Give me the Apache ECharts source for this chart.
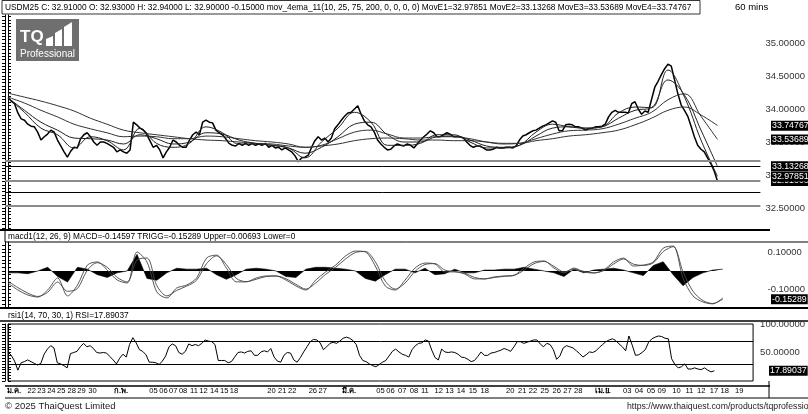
<!DOCTYPE html>
<html><head><meta charset="utf-8">
<script src="https://cdn.jsdelivr.net/npm/echarts@6/dist/echarts.min.js"></script>
<style>html,body{margin:0;padding:0;background:#fff;}#c{width:808px;height:414px;}</style>
</head><body><div id="c"></div>
<script>
// ---- price (one value per bar slot) ----
const closes = [34.17,34.12,34.08,33.94,33.85,33.83,33.77,33.74,33.73,33.65,
33.53,33.58,33.62,33.68,33.65,33.53,33.44,33.35,33.27,33.36,
33.42,33.41,33.55,33.61,33.64,33.58,33.50,33.45,33.50,33.50,
33.48,33.45,33.42,33.35,33.38,33.35,33.33,33.38,33.80,33.76,
33.71,33.68,33.62,33.52,33.42,33.45,33.38,33.26,33.35,33.42,
33.53,33.50,33.45,33.42,33.42,33.53,33.61,33.65,33.61,33.80,
33.83,33.80,33.79,33.68,33.64,33.61,33.55,33.48,33.45,33.44,
33.48,33.45,33.48,33.45,33.48,33.45,33.47,33.45,33.48,33.42,
33.45,33.41,33.42,33.38,33.41,33.38,33.35,33.29,33.20,33.26,
33.27,33.30,33.42,33.52,33.58,33.53,33.56,33.50,33.56,33.70,
33.76,33.83,33.89,33.94,33.95,34.00,34.05,33.92,33.82,33.76,
33.73,33.65,33.53,33.47,33.42,33.38,33.39,33.44,33.47,33.45,
33.44,33.47,33.45,33.41,33.47,33.53,33.58,33.62,33.67,33.64,
33.58,33.58,33.61,33.64,33.62,33.58,33.58,33.58,33.56,33.50,
33.45,33.42,33.44,33.44,33.41,33.38,33.38,33.39,33.42,33.41,
33.41,33.42,33.42,33.41,33.44,33.53,33.59,33.61,33.64,33.67,
33.68,33.71,33.74,33.76,33.79,33.82,33.80,33.67,33.67,33.76,
33.77,33.76,33.73,33.73,33.71,33.68,33.70,33.71,33.73,33.73,
33.74,33.77,33.88,33.95,33.98,33.95,33.95,33.95,33.94,34.08,
34.11,34.00,33.92,33.97,33.95,34.14,34.33,34.42,34.52,34.61,
34.68,34.65,34.44,34.23,34.06,33.98,33.89,33.74,33.58,33.45,
33.39,33.35,33.26,33.17,33.06,32.91];

// ---- moving averages (one value every EMA_STEP slots) ----
const EMA_STEP = 5;
const movE1 = [34.17,33.95,33.71,33.61,33.41,33.58,33.52,33.38,33.71,33.48,33.42,33.48,33.73,33.64,33.47,33.47,33.45,33.41,33.26,33.50,33.71,33.95,33.80,33.45,33.45,33.48,33.61,33.61,33.50,33.41,33.41,33.45,33.65,33.77,33.73,33.71,33.73,33.94,34.03,34.02,34.59,34.18,33.53,32.98];
const movE2 = [34.17,33.98,33.80,33.68,33.56,33.55,33.53,33.47,33.61,33.55,33.47,33.50,33.64,33.62,33.53,33.48,33.45,33.41,33.33,33.42,33.58,33.77,33.80,33.61,33.50,33.50,33.58,33.59,33.53,33.44,33.42,33.45,33.59,33.71,33.73,33.71,33.73,33.86,33.98,34.02,34.44,34.21,33.68,33.13];
const movE3 = [34.18,34.09,33.98,33.88,33.77,33.70,33.64,33.58,33.59,33.58,33.55,33.55,33.59,33.58,33.55,33.52,33.50,33.47,33.42,33.45,33.55,33.65,33.68,33.62,33.56,33.56,33.58,33.58,33.55,33.50,33.47,33.48,33.55,33.62,33.67,33.68,33.70,33.77,33.86,33.95,34.14,34.23,33.89,33.54];
const movE4 = [34.24,34.18,34.12,34.05,33.97,33.86,33.77,33.68,33.64,33.61,33.58,33.55,33.53,33.52,33.50,33.48,33.47,33.44,33.42,33.44,33.47,33.52,33.55,33.56,33.55,33.53,33.53,33.52,33.52,33.50,33.48,33.48,33.52,33.55,33.59,33.61,33.64,33.68,33.76,33.86,33.98,34.03,33.91,33.75];

// ---- MACD (one value every MACD_STEP slots) ----
const MACD_STEP = 3;
const macdLine = [-0.065,-0.103,-0.130,-0.141,-0.103,-0.038,-0.135,-0.076,0.032,0.049,
0.005,-0.049,-0.065,0.103,0.049,-0.114,-0.146,-0.092,-0.076,-0.038,
0.070,0.086,0.016,-0.059,-0.059,-0.038,-0.027,-0.027,-0.049,-0.081,
-0.103,-0.049,-0.005,0.032,0.081,0.108,0.103,0.027,-0.081,-0.103,
-0.049,0.016,0.043,0.038,-0.005,-0.005,-0.016,-0.043,-0.043,-0.032,
-0.027,-0.022,0.016,0.049,0.054,0.016,-0.011,0.016,-0.005,-0.011,
0.005,0.049,0.070,0.027,0.032,0.049,0.124,0.135,-0.040,-0.135,
-0.168,-0.178,-0.146];
const triggLine = [-0.055,-0.090,-0.120,-0.138,-0.115,-0.060,-0.110,-0.095,0.005,0.045,
0.020,-0.035,-0.060,0.060,0.070,-0.080,-0.135,-0.105,-0.082,-0.050,
0.040,0.082,0.035,-0.040,-0.058,-0.045,-0.030,-0.027,-0.042,-0.072,
-0.098,-0.065,-0.018,0.020,0.065,0.100,0.106,0.050,-0.055,-0.098,
-0.065,-0.002,0.035,0.040,0.005,-0.003,-0.012,-0.035,-0.043,-0.035,
-0.029,-0.024,0.005,0.040,0.052,0.025,-0.005,0.010,-0.002,-0.010,
0.002,0.038,0.065,0.037,0.030,0.044,0.105,0.132,-0.005,-0.110,
-0.160,-0.176,-0.153];
const macdHist = [-0.01,-0.01,-0.015,0.0,0.02,-0.03,-0.06,0.02,0.01,-0.02,
-0.035,-0.01,0.0,0.09,-0.04,-0.05,-0.01,0.015,0.01,0.01,
0.015,-0.02,-0.045,-0.02,0.01,0.015,0.01,0.0,-0.03,-0.035,
0.01,0.02,0.02,0.015,0.01,0.0,-0.04,-0.055,-0.02,0.01,
0.01,-0.01,0.015,-0.02,-0.015,0.01,-0.01,-0.01,0.005,0.005,
0.01,0.01,0.02,0.01,0.0,-0.01,-0.03,0.01,-0.01,0.005,
0.01,0.015,0.005,-0.01,-0.025,0.03,0.05,-0.02,-0.08,-0.035,
-0.01,0.005,0.01];

// ---- RSI (one value per bar slot) ----
const rsiLine = [51,45,35,19,32,34,37,34,31,28,
31,47,56,62,58,32,30,27,23,48,
50,52,60,66,60,62,57,50,49,50,
49,43,37,30,40,47,42,64,76,67,
55,52,46,33,33,32,29,35,44,60,
65,62,50,47,52,65,62,64,62,66,
72,70,69,64,36,36,36,32,34,42,
50,51,49,52,53,45,45,51,53,51,
57,42,35,33,45,50,49,37,33,41,
51,60,69,73,72,67,55,60,66,68,
66,70,75,77,75,71,64,45,36,34,
30,27,25,29,33,36,44,52,56,51,
47,45,42,55,62,66,67,72,70,54,
41,37,56,51,50,51,50,47,42,41,
38,34,36,43,51,45,45,49,50,52,
54,57,55,52,60,69,69,66,68,70,
72,72,65,60,66,64,55,38,44,58,
62,60,58,53,48,42,46,51,50,53,
59,64,69,72,74,71,65,60,53,79,
63,45,46,50,55,68,74,77,79,78,
75,74,39,29,23,25,30,21,21,23,
21,20,23,19,16,17.89];

// ---- horizontal price levels and last values ----
const priceLevels = [33.212, 33.136, 32.909, 32.742, 32.538];
const lastClose = 32.91, lastE1 = 32.97851, lastE2 = 33.13268, lastE3 = 33.53689, lastE4 = 33.74767;
const lastTrigg = -0.15289, lastRsi = 17.89037;
const rsiBands = [70, 30];

// ---- axis labels ----
const priceTicks = [35, 34.5, 34, 33.5, 33, 32.5];
const macdTicks = [0.1, -0.1];
const rsiTicks = [100, 50];
const dateLabels = ['ม.ค.','22','23','24','25','28','29','30','ก.พ.','05','06','07','08','11','12','14','15','18','20','21','22','26','27','มี.ค.','05','06','07','08','11','12','13','14','15','18','20','21','22','25','26','27','28','เม.ย.','03','04','05','09','10','11','12','17','18','19'];
const datePos = [1.8,7.2,10.2,13.2,16.2,19.4,22.4,25.7,34.4,44.3,47.3,50.3,53.3,56.6,59.5,62.8,65.8,68.8,80.2,83.5,86.5,92.8,95.8,103.8,113.4,116.4,120.0,123.6,126.9,131.1,134.4,137.9,141.5,145.1,152.9,156.5,159.8,163.4,167.0,170.3,173.6,181.0,188.5,192.1,195.7,199.0,203.5,207.4,211.0,214.9,218.2,222.6];

const headerText = 'USDM25 C: 32.91000 O: 32.93000 H: 32.94000 L: 32.90000 -0.15000 mov_4ema_11(10, 25, 75, 200, 0, 0, 0, 0) MovE1=32.97851 MovE2=33.13268 MovE3=33.53689 MovE4=33.74767';
const macdText = 'macd1(12, 26, 9) MACD=-0.14597 TRIGG=-0.15289 Upper=0.00693 Lower=0';
const rsiText = 'rsi1(14, 70, 30, 1) RSI=17.89037';

// ---------------------------------------------------------------
const F = "'Liberation Sans', Arial, sans-serif";
function ticks(min, max, step) { const a = []; for (let v = Math.ceil(min / step) * step; v <= max + 1e-9; v += step) a.push(+v.toFixed(6)); return a; }
const perSlot = arr => arr.map((v, i) => [i, v]);
const stepped = (arr, s) => arr.map((v, i) => [i * s, v]);

const P_MIN = 32.167, P_MAX = 35.424, M_MIN = -0.195, M_MAX = 0.157;
const X0 = { min: -0.9, max: 228 }, X2 = { min: 0, max: 226.8 };

function yAx(grid, pos, min, max, step, labels, extra) {
  return Object.assign({
    type: 'value', gridIndex: grid, position: pos, min: min, max: max,
    axisLine: { show: true, lineStyle: { color: '#000', width: 1 } },
    axisTick: { show: true, length: 3, customValues: ticks(min, max, step), lineStyle: { color: '#000' } },
    axisLabel: labels ? { show: true, customValues: labels, formatter: v => v.toFixed(5), color: '#333', fontFamily: F, fontSize: 9.5, margin: 5 } : { show: false },
    splitLine: { show: false }
  }, extra || {});
}
const hideX = (g, r) => ({ type: 'value', gridIndex: g, min: r.min, max: r.max, axisLine: { show: false }, axisTick: { show: false }, axisLabel: { show: false }, splitLine: { show: false } });
const lineS = (x, y, data, color, width) => ({ type: 'line', xAxisIndex: x, yAxisIndex: y, data: data, symbol: 'none', silent: true, animation: false, lineStyle: { color: color, width: width } });

const levelLines = priceLevels.map((v, i) => ({ yAxis: v, lineStyle: i % 2 === 0 ? { color: '#8c8c8c', width: 2, type: 'solid' } : { color: '#000', width: 1, type: 'solid' } }));

const priceSeries = lineS(0, 0, perSlot(closes), '#000', 1.5);
priceSeries.markLine = { symbol: 'none', silent: true, animation: false, label: { show: false }, data: levelLines };

const e4 = lineS(0, 0, stepped(movE4, EMA_STEP), '#333', 1);
const e3 = lineS(0, 0, stepped(movE3, EMA_STEP), '#333', 1);
const e2 = lineS(0, 0, stepped(movE2, EMA_STEP), '#222', 1);
const e1 = lineS(0, 0, stepped(movE1, EMA_STEP), '#222', 1);
[e1, e2, e3, e4].forEach(s => s.smooth = 0.4);

const hist = lineS(1, 2, stepped(macdHist, MACD_STEP), '#000', 0.6); hist.areaStyle = { color: '#000', opacity: 1 };
const macdS = lineS(1, 2, stepped(macdLine, MACD_STEP), '#444', 0.9); macdS.smooth = 0.3;
const trigS = lineS(1, 2, stepped(triggLine, MACD_STEP), '#444', 0.9); trigS.smooth = 0.3;

const rsiS = lineS(2, 4, perSlot(rsiLine), '#000', 1);
rsiS.markLine = { symbol: 'none', silent: true, animation: false, label: { show: false }, lineStyle: { color: '#000', width: 1, type: 'solid' }, data: rsiBands.map(v => ({ yAxis: v })) };

function nearestLabel(v) { let b = 0; for (let i = 1; i < datePos.length; i++) if (Math.abs(datePos[i] - v) < Math.abs(datePos[b] - v)) b = i; return dateLabels[b]; }

const ln = (x1, y1, x2, y2, w, c) => ({ type: 'line', silent: true, shape: { x1, y1, x2, y2 }, style: { stroke: c || '#000', lineWidth: w } });
const txt = (x, y, s, size, extra) => ({ type: 'text', silent: true, x, y, style: Object.assign({ text: s, fill: '#000', font: size + 'px ' + F, textVerticalAlign: 'middle' }, extra || {}) });

const baseGraphic = [
    { type: 'rect', silent: true, shape: { x: 2, y: 0.5, width: 698, height: 13.5 }, style: { fill: 'none', stroke: '#000', lineWidth: 0.8 } },
    txt(5, 7.5, headerText, 8.35),
    txt(735, 7.5, '60 mins', 9.5),
    ln(0, 230, 770, 230, 2),
    ln(5, 242, 808, 242, 1),
    ln(5, 231, 5, 242, 1),
    txt(8, 236.5, macdText, 8.3),
    ln(0, 308, 808, 308, 2),
    txt(8, 315.5, rsiText, 8.3),
    ln(0, 321, 808, 321, 1.5),
    ln(5, 386, 770, 386, 1.5),
    ln(769, 381, 769, 398, 1),
    ln(5, 398, 808, 398, 1),
    txt(5, 406.5, '© 2025 ThaiQuest Limited', 9.5, { fill: '#222' }),
    txt(627, 406.5, 'https://www.thaiquest.com/products/tqprofessional', 8.7, { fill: '#222' }),
    { type: 'group', z: 100, silent: true, children: [
      { type: 'rect', shape: { x: 16, y: 19, width: 63, height: 42 }, style: { fill: '#6f6f6f' } },
      { type: 'text', x: 20, y: 29, style: { text: 'TQ', fill: '#fff', font: 'bold 17px ' + F } },
      { type: 'polygon', shape: { points: [[46, 46], [46, 39], [53, 36], [53, 46]] }, style: { fill: '#fff' } },
      { type: 'polygon', shape: { points: [[55, 46], [55, 33], [62, 29], [62, 46]] }, style: { fill: '#fff' } },
      { type: 'polygon', shape: { points: [[64, 46], [64, 27], [72, 22], [72, 46]] }, style: { fill: '#fff' } },
      { type: 'text', x: 20, y: 49, style: { text: 'Professional', fill: '#fff', font: '10px ' + F } }
    ] }
];

const option = {
  backgroundColor: '#fff',
  animation: false,
  grid: [
    { left: 5, right: 38, top: 15, height: 215 },
    { left: 5, right: 38, top: 242, height: 65 },
    { left: 8, right: 42, top: 324, height: 57, show: true, borderColor: '#000', borderWidth: 1 }
  ],
  xAxis: [
    hideX(0, X0), hideX(1, X0),
    { type: 'value', gridIndex: 2, min: X2.min, max: X2.max, axisLine: { show: false }, axisTick: { show: false }, splitLine: { show: false },
      axisLabel: { show: true, customValues: datePos, margin: 6, color: '#000', fontFamily: F, fontSize: 7.6,
        formatter: v => { const s = nearestLabel(v); return /^\d+$/.test(s) ? s : '{m|' + s + '}'; },
        rich: { m: { fontWeight: 'bold', fontSize: 7.6, fontFamily: F, color: '#000' } } } }
  ],
  yAxis: [
    yAx(0, 'right', P_MIN, P_MAX, 0.05, priceTicks),
    yAx(0, 'left', P_MIN, P_MAX, 0.05, null),
    yAx(1, 'right', M_MIN, M_MAX, 0.02, macdTicks),
    yAx(1, 'left', M_MIN, M_MAX, 0.02, null),
    yAx(2, 'right', 0, 100, 5, rsiTicks, { offset: 2 }),
    yAx(2, 'left', 0, 100, 5, null, { offset: 3 })
  ],
  series: [priceSeries, e4, e3, e2, e1, hist, macdS, trigS, rsiS],
  graphic: baseGraphic
};
const chart = echarts.init(document.getElementById('c'));
chart.setOption(option);

// value tags on the right axes, placed through the axes' own scales
const tagDefs = [
  [0, lastClose, '32.91000', 771],
  [0, lastE4, lastE4.toFixed(5), 771],
  [0, lastE3, lastE3.toFixed(5), 771],
  [0, lastE2, lastE2.toFixed(5), 771],
  [0, lastE1, lastE1.toFixed(5), 771],
  [2, lastTrigg, lastTrigg.toFixed(5), 771],
  [4, lastRsi, lastRsi.toFixed(5), 769]
];
const tagGraphic = tagDefs.map(([ax, v, s, x]) => ({
  type: 'text', silent: true, z: 120, x: x, y: chart.convertToPixel({ yAxisIndex: ax }, v),
  style: { text: s, fill: '#fff', backgroundColor: '#000', padding: [1, 1, 0, 1], font: '8.8px ' + F, textVerticalAlign: 'middle' }
}));
chart.setOption({ graphic: baseGraphic.concat(tagGraphic) });
</script></body></html>
